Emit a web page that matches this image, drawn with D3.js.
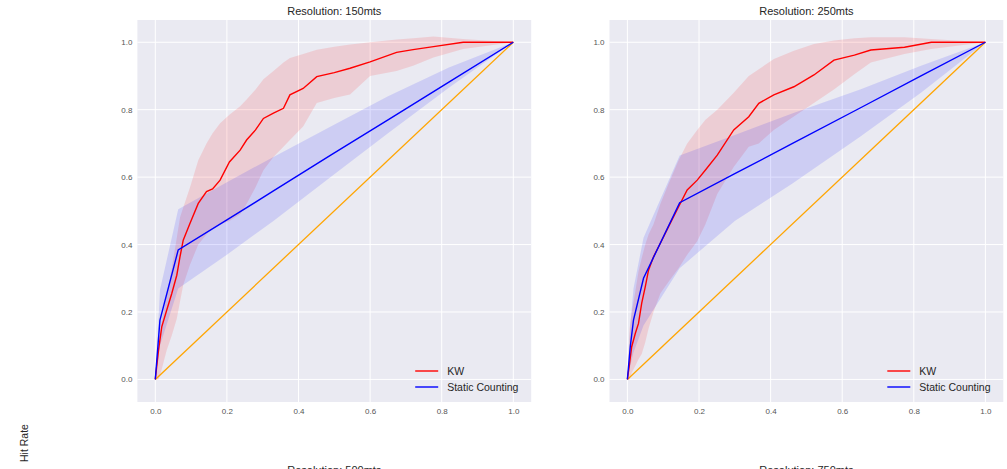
<!DOCTYPE html>
<html>
<head>
<meta charset="utf-8">
<script src="https://cdn.jsdelivr.net/npm/d3@7"></script>
<style>
  body { margin: 0; background: #fff; }
  svg { display: block; font-family: "Liberation Sans", Arial, sans-serif; }
</style>
</head>
<body>
<div id="chart"></div>
<script>
// ---- data ----
const titles = ["Resolution: 150mts", "Resolution: 250mts"];
const lowerTitles = ["Resolution: 500mts", "Resolution: 750mts"];
const ticks = [0, 0.2, 0.4, 0.6, 0.8, 1.0];
const legendLabels = ["KW", "Static Counting"];

// KW, 150mts
const kw150X  = [0, 0.009, 0.018, 0.032, 0.046, 0.060, 0.069, 0.078, 0.097, 0.120, 0.143, 0.160, 0.181, 0.207, 0.237, 0.255, 0.280, 0.302, 0.330, 0.358, 0.376, 0.413, 0.451, 0.500, 0.544, 0.600, 0.674, 0.720, 0.777, 0.860, 1.0];
const kw150Y  = [0, 0.087, 0.156, 0.206, 0.255, 0.309, 0.364, 0.413, 0.463, 0.522, 0.557, 0.565, 0.591, 0.645, 0.680, 0.710, 0.740, 0.774, 0.790, 0.804, 0.844, 0.863, 0.898, 0.910, 0.923, 0.942, 0.970, 0.978, 0.987, 1.0, 1.0];
const kw150Hi = [0, 0.10, 0.17, 0.25, 0.33, 0.42, 0.48, 0.51, 0.57, 0.65, 0.70, 0.73, 0.76, 0.785, 0.81, 0.83, 0.86, 0.89, 0.915, 0.94, 0.953, 0.965, 0.978, 0.987, 0.993, 1.0, 1.008, 1.012, 1.017, 1.01, 1.0];
const kw150Lo = [0, 0.0, 0.03, 0.087, 0.13, 0.18, 0.23, 0.28, 0.34, 0.40, 0.43, 0.45, 0.46, 0.47, 0.49, 0.52, 0.57, 0.62, 0.66, 0.69, 0.71, 0.75, 0.82, 0.835, 0.845, 0.90, 0.915, 0.93, 0.955, 0.98, 1.0];

// Static Counting, 150mts
const sc150X  = [0, 0.013, 0.064, 0.2, 0.33, 0.49, 0.65, 0.82, 1.0];
const sc150Y  = [0, 0.176, 0.384, 0.473, 0.559, 0.665, 0.770, 0.882, 1.0];
const sc150Hi = [0, 0.265, 0.505, 0.585, 0.66, 0.75, 0.84, 0.925, 1.0];
const sc150Lo = [0, 0.10, 0.27, 0.37, 0.47, 0.60, 0.73, 0.865, 1.0];

// KW, 250mts
const kw250X  = [0, 0.006, 0.012, 0.022, 0.031, 0.040, 0.050, 0.059, 0.073, 0.092, 0.115, 0.143, 0.167, 0.195, 0.218, 0.251, 0.297, 0.339, 0.367, 0.409, 0.465, 0.521, 0.577, 0.634, 0.680, 0.774, 0.849, 1.0];
const kw250Y  = [0, 0.047, 0.097, 0.136, 0.166, 0.226, 0.275, 0.324, 0.364, 0.404, 0.453, 0.512, 0.562, 0.591, 0.621, 0.665, 0.740, 0.779, 0.819, 0.844, 0.868, 0.903, 0.947, 0.962, 0.977, 0.985, 1.0, 1.0];
const kw250Hi = [0, 0.15, 0.20, 0.26, 0.32, 0.36, 0.40, 0.43, 0.46, 0.52, 0.58, 0.65, 0.70, 0.74, 0.77, 0.80, 0.85, 0.90, 0.92, 0.95, 0.975, 0.995, 1.005, 1.012, 1.015, 1.015, 1.01, 1.0];
const kw250Lo = [0, 0.0, 0.02, 0.04, 0.06, 0.075, 0.11, 0.15, 0.20, 0.255, 0.29, 0.33, 0.37, 0.41, 0.46, 0.55, 0.63, 0.69, 0.70, 0.74, 0.78, 0.82, 0.86, 0.905, 0.94, 0.965, 0.98, 1.0];

// Static Counting, 250mts
const sc250X  = [0, 0.008, 0.017, 0.045, 0.146, 0.3, 0.46, 0.65, 0.82, 1.0];
const sc250Y  = [0, 0.097, 0.176, 0.300, 0.524, 0.610, 0.699, 0.805, 0.900, 1.0];
const sc250Hi = [0, 0.16, 0.27, 0.42, 0.664, 0.725, 0.789, 0.86, 0.93, 1.0];
const sc250Lo = [0, 0.04, 0.08, 0.16, 0.33, 0.47, 0.58, 0.72, 0.85, 1.0];

const chance = [0, 1];

// ---- layout ----
const width = 1007;
const height = 469;
const panelLeft = [137.4, 609.5];
const panelW = 393.8;
const panelTop = 20;
const panelBottom = 402;

const colors = { kw: "#ff0000", sc: "#0000ff", chance: "#ffa500", bg: "#eaeaf2" };

function zip(xs, ys, lo, hi) {
    return xs.map((x, i) => ({ x, y: ys[i], lo: lo[i], hi: hi[i] }));
}

const panels = [
    { kw: zip(kw150X, kw150Y, kw150Lo, kw150Hi), sc: zip(sc150X, sc150Y, sc150Lo, sc150Hi) },
    { kw: zip(kw250X, kw250Y, kw250Lo, kw250Hi), sc: zip(sc250X, sc250Y, sc250Lo, sc250Hi) }
];

const svg = d3.select("#chart").append("svg")
    .attr("width", width)
    .attr("height", height);

svg.append("text")
    .attr("transform", "translate(28, 443) rotate(-90)")
    .attr("text-anchor", "middle")
    .attr("font-size", 10.5)
    .attr("fill", "#262626")
    .text("Hit Rate");

panels.forEach((p, i) => {
    const x = d3.scaleLinear().domain([-0.05, 1.05]).range([panelLeft[i], panelLeft[i] + panelW]);
    const y = d3.scaleLinear().domain([-0.067, 1.066]).range([panelBottom, panelTop]);
    const g = svg.append("g");

    g.append("rect")
        .attr("x", x.range()[0])
        .attr("y", panelTop)
        .attr("width", panelW)
        .attr("height", panelBottom - panelTop)
        .attr("fill", colors.bg);

    // grid
    g.selectAll(".vgrid").data(ticks).enter().append("line")
        .attr("x1", d => x(d)).attr("x2", d => x(d))
        .attr("y1", panelTop).attr("y2", panelBottom)
        .attr("stroke", "#fff").attr("stroke-width", 1);
    g.selectAll(".hgrid").data(ticks).enter().append("line")
        .attr("y1", d => y(d)).attr("y2", d => y(d))
        .attr("x1", x.range()[0]).attr("x2", x.range()[1])
        .attr("stroke", "#fff").attr("stroke-width", 1);

    // axes (labels only, seaborn style)
    const xAxis = g.append("g")
        .attr("transform", `translate(0, ${panelBottom})`)
        .call(d3.axisBottom(x).tickValues(ticks).tickFormat(d3.format(".1f")).tickSize(0).tickPadding(6));
    const yAxis = g.append("g")
        .attr("transform", `translate(${x.range()[0]}, 0)`)
        .call(d3.axisLeft(y).tickValues(ticks).tickFormat(d3.format(".1f")).tickSize(0).tickPadding(5));
    [xAxis, yAxis].forEach(a => {
        a.select(".domain").remove();
        a.selectAll("text")
            .attr("font-family", "Liberation Sans, Arial, sans-serif")
            .attr("font-size", 8)
            .attr("fill", "#555");
    });

    // bands
    const area = d3.area()
        .x(d => x(d.x))
        .y0(d => y(d.lo))
        .y1(d => y(d.hi));
    g.append("path").datum(p.kw).attr("d", area)
        .attr("fill", colors.kw).attr("fill-opacity", 0.12);
    g.append("path").datum(p.sc).attr("d", area)
        .attr("fill", colors.sc).attr("fill-opacity", 0.12);

    const line = d3.line().x(d => x(d.x)).y(d => y(d.y));

    g.append("path").datum(chance.map(v => ({ x: v, y: v }))).attr("d", line)
        .attr("fill", "none").attr("stroke", colors.chance).attr("stroke-width", 1.3);
    g.append("path").datum(p.kw).attr("d", line)
        .attr("fill", "none").attr("stroke", colors.kw).attr("stroke-width", 1.4);
    g.append("path").datum(p.sc).attr("d", line)
        .attr("fill", "none").attr("stroke", colors.sc).attr("stroke-width", 1.4);

    // title
    g.append("text")
        .attr("x", x(0.5)).attr("y", 15)
        .attr("text-anchor", "middle")
        .attr("font-size", 11)
        .attr("fill", "#262626")
        .text(titles[i]);

    // title of the next row, cut by the window edge as in the source
    g.append("text")
        .attr("x", x(0.5)).attr("y", 474)
        .attr("text-anchor", "middle")
        .attr("font-size", 11)
        .attr("fill", "#262626")
        .text(lowerTitles[i]);

    // legend
    const lg = g.append("g").attr("transform", `translate(${x.range()[1] - 116}, 371)`);
    [colors.kw, colors.sc].forEach((c, k) => {
        lg.append("line")
            .attr("x1", 0).attr("x2", 23)
            .attr("y1", k * 16).attr("y2", k * 16)
            .attr("stroke", c).attr("stroke-width", 1.4);
        lg.append("text")
            .attr("x", 32).attr("y", k * 16 + 4)
            .attr("font-size", 10.5)
            .attr("fill", "#262626")
            .text(legendLabels[k]);
    });
});
</script>
</body>
</html>
